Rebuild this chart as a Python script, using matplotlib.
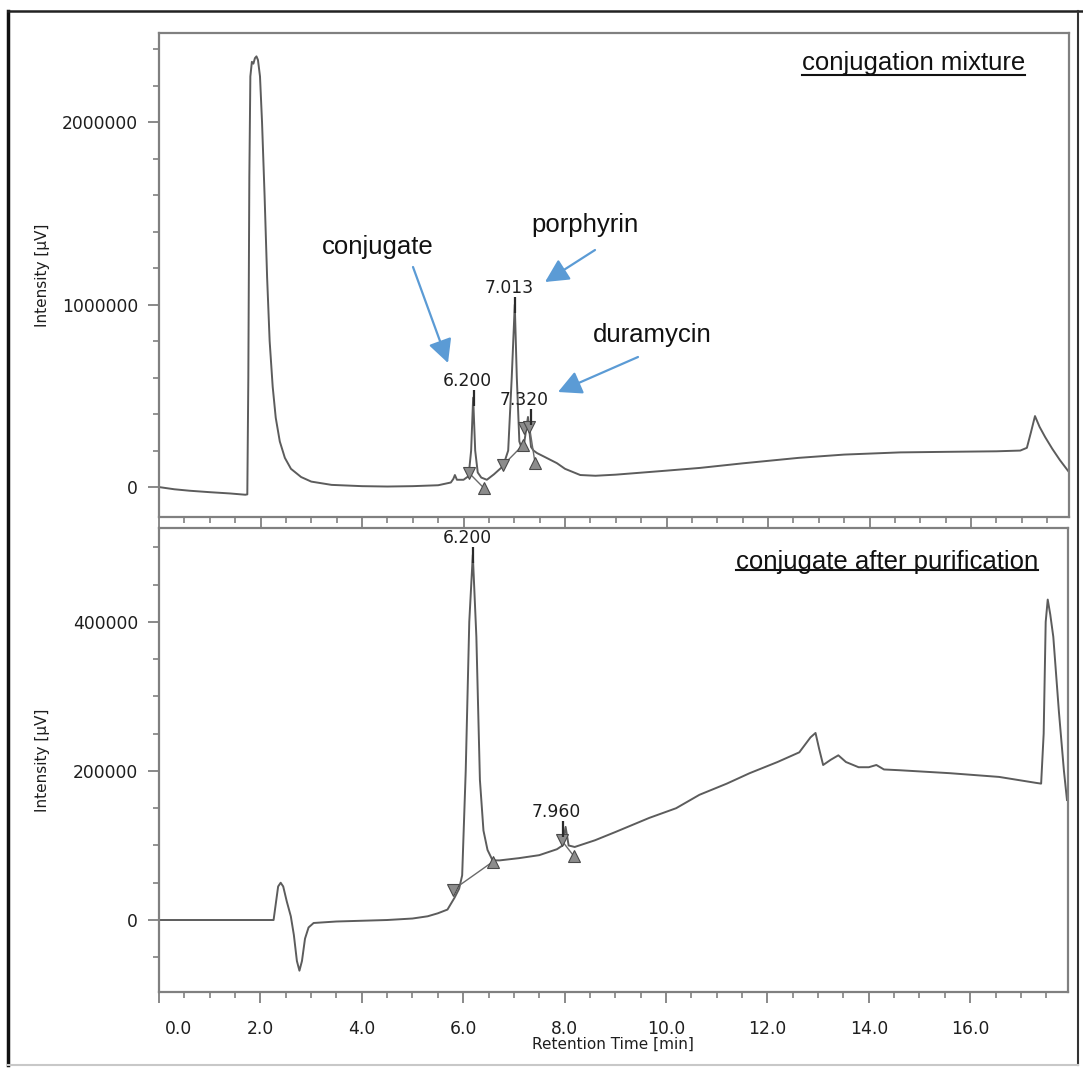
import matplotlib
matplotlib.use("Agg")
import matplotlib.pyplot as plt
from matplotlib.lines import Line2D
from matplotlib.ticker import MultipleLocator, FuncFormatter
import matplotlib.transforms as mtransforms

# ---------------- data (retention time [min], intensity [kµV]) ----------------
top_time = [0, 0.3, 0.6, 1.0, 1.4, 1.7, 1.74, 1.76, 1.78, 1.80, 1.83, 1.86, 1.89,
            1.92, 1.95, 1.99, 2.03, 2.08, 2.13, 2.18, 2.24, 2.30, 2.38, 2.48, 2.6,
            2.8, 3.0, 3.4, 4.0, 4.5, 5.0, 5.5, 5.75, 5.80, 5.83, 5.87, 6.0, 6.10,
            6.15, 6.19, 6.23, 6.28, 6.35, 6.46, 6.6, 6.78, 6.88, 6.95, 7.01, 7.05,
            7.10, 7.15, 7.20, 7.27, 7.33, 7.38, 7.45, 7.6, 7.84, 8.0, 8.3, 8.6,
            9.0, 10.0, 10.66, 11.5, 12.6, 13.5, 14.6, 15.5, 16.5, 16.97, 17.1,
            17.18, 17.26, 17.35, 17.46, 17.6, 17.75, 17.93]
top_signal = [0, -12, -20, -28, -35, -42, -40, 600, 1700, 2250, 2330, 2320, 2350,
              2360, 2340, 2250, 2000, 1600, 1150, 800, 550, 380, 250, 160, 100,
              55, 30, 12, 5, 3, 5, 10, 25, 45, 66, 40, 40, 60,
              200, 490, 200, 80, 52, 40, 70, 115, 200, 600, 1000, 600,
              250, 210, 250, 384, 220, 200, 186, 165, 131, 100, 66, 62,
              68, 90, 105, 130, 160, 178, 190, 193, 196, 200, 215,
              300, 389, 330, 274, 210, 148, 82]

bot_time = [0, 1.0, 2.0, 2.26, 2.30, 2.35, 2.40, 2.45, 2.52, 2.60, 2.66, 2.72,
            2.77, 2.82, 2.88, 2.95, 3.05, 3.5, 4.0, 4.5, 5.0, 5.3, 5.5, 5.69,
            5.83, 5.92, 5.98, 6.05, 6.12, 6.19, 6.26, 6.33, 6.40, 6.48, 6.58,
            6.72, 7.1, 7.5, 7.85, 7.96, 8.02, 8.08, 8.2, 8.6, 9.0, 9.67, 10.2,
            10.66, 11.2, 11.65, 12.2, 12.63, 12.85, 12.95, 13.02, 13.1, 13.25,
            13.4, 13.55, 13.8, 14.0, 14.15, 14.3, 14.6, 15.6, 16.57, 17.3, 17.4,
            17.45, 17.49, 17.53, 17.58, 17.64, 17.75, 17.85, 17.91]
bot_signal = [0, 0, 0, 0, 20, 45, 50, 45, 25, 5, -20, -55,
              -68, -55, -25, -10, -4, -2, -1, 0, 2, 5, 9, 14,
              30, 42, 60, 200, 400, 490, 380, 188, 120, 94, 80,
              80, 83, 87, 95, 100, 125, 100, 98, 107, 118, 137, 150,
              168, 183, 197, 212, 225, 245, 251, 230, 208, 215,
              221, 212, 205, 205, 208, 202, 201, 197, 192, 184, 183,
              250, 400, 430, 410, 380, 280, 200, 161]

# integration markers
top_down_t = [6.11, 6.78, 7.19, 7.30]
top_down_v = [77, 120, 323, 330]
top_up_t = [6.40, 7.17, 7.41]
top_up_v = [-5, 230, 130]
bot_down_t = [5.79, 7.94]
bot_down_v = [40, 107]
bot_up_t = [6.58, 8.18]
bot_up_v = [78, 86]

# peak labels
top_peaks = ["6.200", "7.013", "7.320"]
top_peak_v = [490, 1000, 384]
bot_peaks = ["6.200", "7.960"]
bot_peak_v = [490, 122]

x_ticks = [0, 2, 4, 6, 8, 10, 12, 14, 16]
top_y_ticks = [0, 1000000, 2000000]
bot_y_ticks = [0, 200000, 400000]

# ---------------- figure ----------------
W, H = 1083, 1070
fig = plt.figure(figsize=(W / 100, H / 100), dpi=100)
fig.patch.set_facecolor("white")

def fx(px):
    return px / W

def fy(py):
    return 1 - py / H

ax1 = fig.add_axes([fx(159), fy(517), (1069 - 159) / W, (517 - 33) / H])
ax2 = fig.add_axes([fx(159), fy(992), (1068 - 159) / W, (992 - 528) / H])

trace_kw = dict(color="#5c5c5c", lw=1.4)
ax1.plot(top_time, [v * 1000 for v in top_signal], **trace_kw)
ax2.plot(bot_time, [v * 1000 for v in bot_signal], **trace_kw)

mk = dict(ls="none", markersize=8, color="#8c8c8c", markeredgecolor="#4a4a4a",
          markeredgewidth=0.8, zorder=4)

# integration baselines
def baseline(ax, t0, v0, t1, v1):
    ax.plot([t0, t1], [v0 * 1000, v1 * 1000], color="#6a6a6a", lw=1.0, zorder=3)

baseline(ax1, top_down_t[0], top_down_v[0], top_up_t[0], top_up_v[0])
baseline(ax1, top_down_t[1], top_down_v[1], top_up_t[1], top_up_v[1])
baseline(ax1, top_down_t[3], top_down_v[3], top_up_t[2], top_up_v[2])
baseline(ax2, bot_down_t[0], bot_down_v[0], bot_up_t[0], bot_up_v[0])
baseline(ax2, bot_down_t[1], bot_down_v[1], bot_up_t[1], bot_up_v[1])

ax1.plot(top_down_t, [v * 1000 for v in top_down_v], marker="v", **mk)
ax1.plot(top_up_t, [v * 1000 for v in top_up_v], marker="^", **mk)
ax2.plot(bot_down_t, [v * 1000 for v in bot_down_v], marker="v", **mk)
ax2.plot(bot_up_t, [v * 1000 for v in bot_up_v], marker="^", **mk)

lab_font = dict(family="DejaVu Sans", size=12.3, color="#1e1e1e")
for ax, labs, vals in ((ax1, top_peaks, top_peak_v), (ax2, bot_peaks, bot_peak_v)):
    for lab, v in zip(labs, vals):
        t = float(lab)
        ax.plot([t], [v * 1000], marker="|", markersize=12, color="#2a2a2a",
                markeredgewidth=1.6, zorder=5)
        ax.annotate(lab, xy=(t, v * 1000), xytext=(-6, 8),
                    textcoords="offset pixels", ha="center", va="bottom", **lab_font)

# axes styling
spine_c = "#808080"
for ax in (ax1, ax2):
    ax.set_xlim(0, 17.93)
    for s in ax.spines.values():
        s.set_color(spine_c)
        s.set_linewidth(1.6)
    ax.xaxis.set_major_locator(MultipleLocator(2))
    ax.xaxis.set_minor_locator(MultipleLocator(0.5))
    ax.tick_params(axis="both", which="major", direction="out", length=8,
                   width=1.3, color=spine_c, labelcolor="#1e1e1e", labelsize=12.3)
    ax.tick_params(axis="both", which="minor", direction="out", length=4.5,
                   width=1.2, color=spine_c)
    ax.yaxis.set_major_formatter(FuncFormatter(lambda v, p: f"{int(round(v))}"))

ax1.set_ylim(-164000, 2488000)
ax1.set_yticks(top_y_ticks)
ax1.yaxis.set_minor_locator(MultipleLocator(200000))
ax1.tick_params(axis="x", which="major", length=8, labelbottom=False)
ax1.tick_params(axis="y", pad=7)

ax2.set_ylim(-96600, 526000)
ax2.set_yticks(bot_y_ticks)
ax2.yaxis.set_minor_locator(MultipleLocator(50000))
ax2.tick_params(axis="y", pad=7)
ax2.set_xticks(x_ticks)
ax2.set_xticklabels([f"{v:.1f}" for v in x_ticks])
ax2.tick_params(axis="x", which="major", pad=12)

# shift first x label ("0.0") right as in the original
lbls = ax2.get_xticklabels()
off = mtransforms.ScaledTranslation(19 / 100, 0, fig.dpi_scale_trans)
lbls[0].set_transform(lbls[0].get_transform() + off)

# axis titles
fig.text(fx(43), fy(275), "Intensity [µV]", rotation=90, ha="center", va="center",
         family="DejaVu Sans", size=11, color="#1e1e1e")
fig.text(fx(43), fy(760), "Intensity [µV]", rotation=90, ha="center", va="center",
         family="DejaVu Sans", size=11, color="#1e1e1e")
fig.text(fx(613), fy(1044), "Retention Time [min]", ha="center", va="center",
         family="DejaVu Sans", size=11, color="#1e1e1e")

# panel titles (underlined)
title_font = dict(family="Liberation Sans", size=18.5, color="#111111")
t1 = fig.text(fx(1025), fy(63), "conjugation mixture", ha="right", va="center", **title_font)
t2 = fig.text(fx(1038), fy(562), "conjugate after purification", ha="right", va="center", **title_font)

# annotations with blue arrows
ann_font = dict(family="Liberation Sans", size=18.5, color="#111111")
blue = "#5b9bd5"
aprops = dict(arrowstyle="-|>,head_length=0.55,head_width=0.28", color=blue, lw=1.6,
              mutation_scale=26, shrinkA=0, shrinkB=0)
fig.text(fx(378), fy(247), "conjugate", ha="center", va="center", **ann_font)
fig.text(fx(585), fy(225), "porphyrin", ha="center", va="center", **ann_font)
fig.text(fx(652), fy(335), "duramycin", ha="center", va="center", **ann_font)
for start, tip in (((413, 267), (448, 363)), ((595, 250), (545, 282)), ((638, 357), (558, 392))):
    fig.add_artist(matplotlib.patches.FancyArrowPatch(
        posA=(fx(start[0]), fy(start[1])), posB=(fx(tip[0]), fy(tip[1])),
        transform=fig.transFigure, **aprops))

# outer frame
fig.add_artist(Line2D([fx(8), fx(8)], [fy(11), fy(1065)], color="#111111", lw=2.5,
                      transform=fig.transFigure))
fig.add_artist(Line2D([fx(8), fx(1083)], [fy(11), fy(11)], color="#222222", lw=1.8,
                      transform=fig.transFigure))
fig.add_artist(Line2D([fx(1078), fx(1078)], [fy(11), fy(1065)], color="#333333", lw=1.5,
                      transform=fig.transFigure))
fig.add_artist(Line2D([fx(8), fx(1078)], [fy(1065), fy(1065)], color="#c8c8c8", lw=1.5,
                      transform=fig.transFigure))

# underline titles
fig.canvas.draw()
r = fig.canvas.get_renderer()
for t, uy in ((t1, 75), (t2, 570)):
    bb = t.get_window_extent(r)
    fig.add_artist(Line2D([bb.x0 / W, bb.x1 / W], [fy(uy), fy(uy)], color="#111111",
                          lw=1.5, transform=fig.transFigure))

fig.savefig("out.png", dpi=100)
